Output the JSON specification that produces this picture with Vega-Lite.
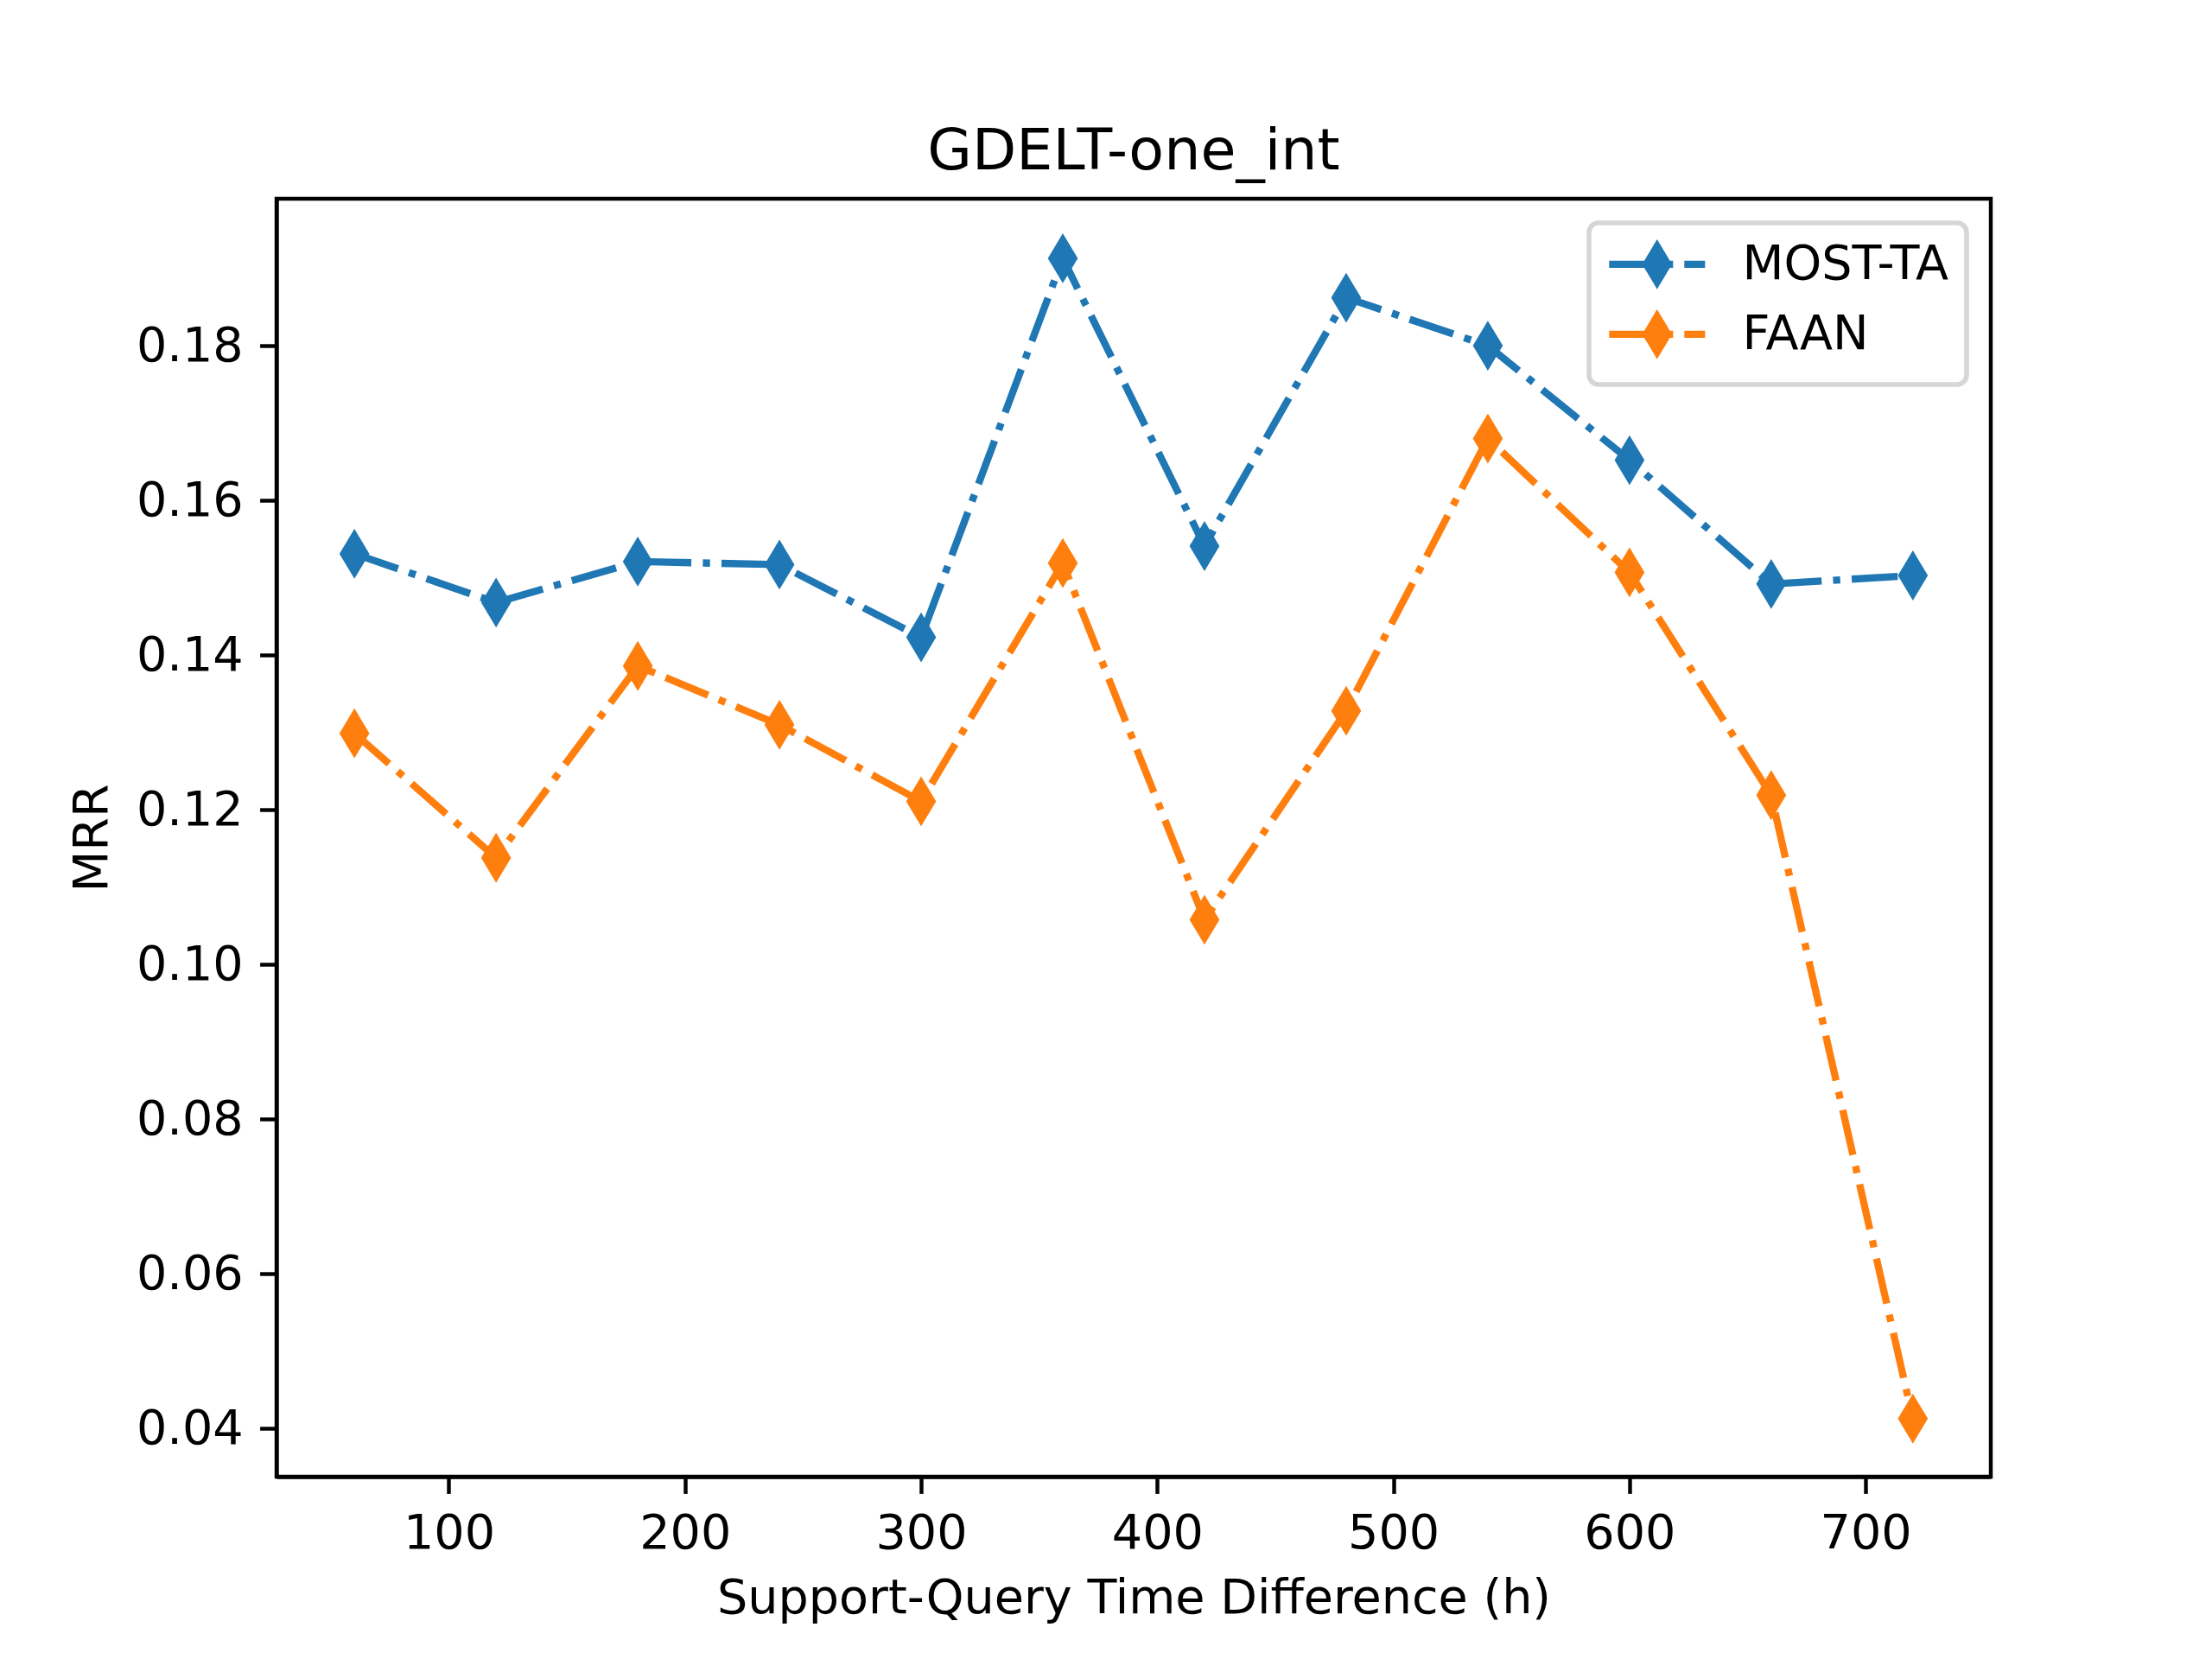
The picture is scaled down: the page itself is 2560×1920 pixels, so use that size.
{
  "$schema": "https://vega.github.io/schema/vega-lite/v6.json",
  "autosize": {"type": "none"},
  "width": 1984,
  "height": 1479,
  "padding": {"left": 320, "top": 230, "right": 256, "bottom": 211},
  "background": "white",
  "title": {
    "text": "GDELT-one_int",
    "fontSize": 66.7,
    "fontWeight": "normal",
    "font": "DejaVu Sans",
    "color": "black",
    "anchor": "middle",
    "frame": "group",
    "baseline": "alphabetic",
    "offset": -33
  },
  "data": {
    "values": [
      {"h": 60, "model": "MOST-TA", "mrr": 0.1531},
      {"h": 120, "model": "MOST-TA", "mrr": 0.1468},
      {"h": 180, "model": "MOST-TA", "mrr": 0.1521},
      {"h": 240, "model": "MOST-TA", "mrr": 0.1517},
      {"h": 300, "model": "MOST-TA", "mrr": 0.1423},
      {"h": 360, "model": "MOST-TA", "mrr": 0.1913},
      {"h": 420, "model": "MOST-TA", "mrr": 0.1541},
      {"h": 480, "model": "MOST-TA", "mrr": 0.1862},
      {"h": 540, "model": "MOST-TA", "mrr": 0.1800},
      {"h": 600, "model": "MOST-TA", "mrr": 0.1652},
      {"h": 660, "model": "MOST-TA", "mrr": 0.1492},
      {"h": 720, "model": "MOST-TA", "mrr": 0.1503},
      {"h": 60, "model": "FAAN", "mrr": 0.1299},
      {"h": 120, "model": "FAAN", "mrr": 0.1138},
      {"h": 180, "model": "FAAN", "mrr": 0.1386},
      {"h": 240, "model": "FAAN", "mrr": 0.1310},
      {"h": 300, "model": "FAAN", "mrr": 0.1211},
      {"h": 360, "model": "FAAN", "mrr": 0.1519},
      {"h": 420, "model": "FAAN", "mrr": 0.1058},
      {"h": 480, "model": "FAAN", "mrr": 0.1328},
      {"h": 540, "model": "FAAN", "mrr": 0.1680},
      {"h": 600, "model": "FAAN", "mrr": 0.1507},
      {"h": 660, "model": "FAAN", "mrr": 0.1219},
      {"h": 720, "model": "FAAN", "mrr": 0.0413}
    ]
  },
  "encoding": {
    "x": {
      "field": "h",
      "type": "quantitative",
      "title": "Support-Query Time Difference (h)",
      "scale": {"domain": [27, 753], "nice": false, "zero": false},
      "axis": {"values": [100, 200, 300, 400, 500, 600, 700], "titlePadding": 19}
    },
    "y": {
      "field": "mrr",
      "type": "quantitative",
      "title": "MRR",
      "scale": {"domain": [0.0338, 0.199], "nice": false, "zero": false},
      "axis": {"values": [0.04, 0.06, 0.08, 0.1, 0.12, 0.14, 0.16, 0.18], "format": ".2f", "titlePadding": 22}
    },
    "color": {
      "field": "model",
      "type": "nominal",
      "scale": {"domain": ["MOST-TA", "FAAN"], "range": ["#1f77b4", "#ff7f0e"]},
      "legend": {
        "title": null,
        "orient": "top-right",
        "offset": 28,
        "padding": 20,
        "symbolType": "M-2.523,0L-0.114,0M0.477,0L0.841,0M1.432,0L2.523,0M0,-0.945L0.564,0L0,0.945L-0.564,0Z",
        "symbolSize": 1936,
        "symbolStrokeWidth": 8.33,
        "symbolOffset": 31,
        "symbolDash": [1, 0],
        "labelOffset": 71,
        "labelFontSize": 55.6,
        "labelFont": "DejaVu Sans",
        "labelColor": "black",
        "labelLimit": 0,
        "rowPadding": 5,
        "strokeColor": "#d6d6d6",
        "fillColor": "white",
        "cornerRadius": 11,
        "encode": {
          "symbols": {
            "update": {
              "fill": {"scale": "color", "field": "value"},
              "stroke": {"scale": "color", "field": "value"},
              "strokeDash": {"value": [1, 0]},
              "strokeCap": {"value": "butt"},
              "strokeJoin": {"value": "miter"},
              "opacity": {"value": 1}
            }
          },
          "legend": {
            "update": {"strokeWidth": {"value": 5.56}}
          }
        }
      }
    }
  },
  "layer": [
    {
      "mark": {
        "type": "line",
        "strokeWidth": 8.33,
        "strokeDash": [53.3, 13.3, 8.3, 13.3],
        "strokeCap": "butt",
        "strokeJoin": "round"
      }
    },
    {
      "mark": {
        "type": "point",
        "shape": "M0,-1L0.6,0L0,1L-0.6,0Z",
        "size": 2209,
        "filled": true,
        "opacity": 1,
        "strokeWidth": 5.56,
        "strokeJoin": "miter"
      },
      "encoding": {
        "stroke": {
          "field": "model",
          "type": "nominal",
          "scale": {"domain": ["MOST-TA", "FAAN"], "range": ["#1f77b4", "#ff7f0e"]},
          "legend": null
        }
      }
    }
  ],
  "config": {
    "font": "DejaVu Sans",
    "view": {"stroke": "black", "strokeWidth": 4.44},
    "axis": {
      "grid": false,
      "domainColor": "black",
      "domainWidth": 4.44,
      "tickColor": "black",
      "tickWidth": 4.44,
      "tickSize": 19.4,
      "labelPadding": 19.4,
      "labelFontSize": 55.6,
      "labelColor": "black",
      "labelFont": "DejaVu Sans",
      "titleFontSize": 55.6,
      "titleFontWeight": "normal",
      "titleColor": "black",
      "titleFont": "DejaVu Sans",
      "labelFlush": false,
      "labelOverlap": false
    }
  }
}
